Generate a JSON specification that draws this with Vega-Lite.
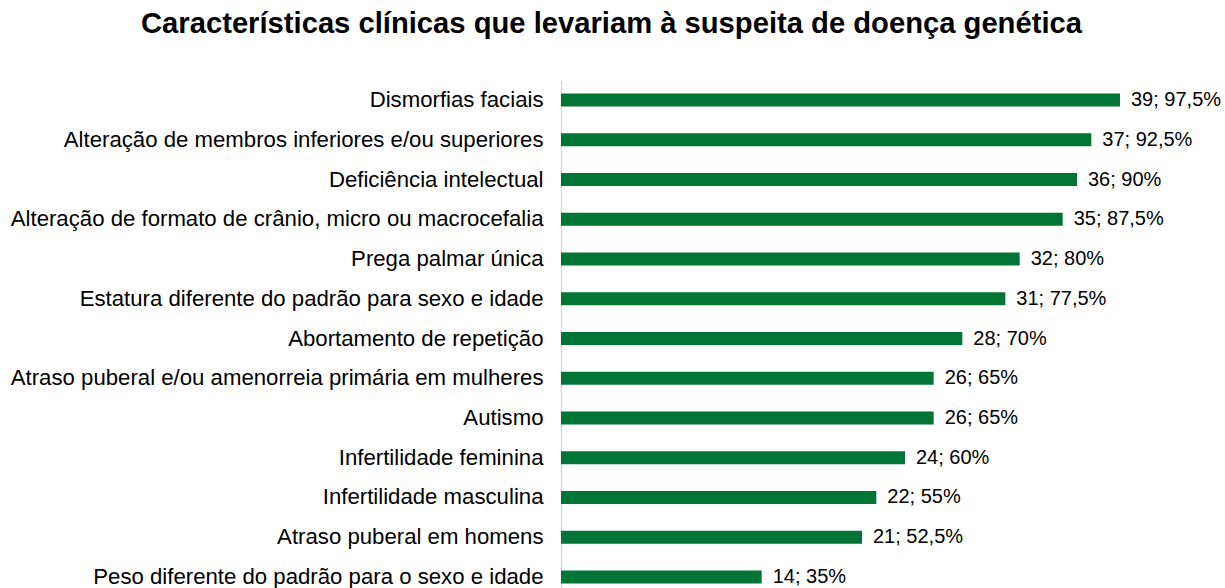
{
  "$schema": "https://vega.github.io/schema/vega-lite/v6.json",
  "autosize": "none",
  "width": 645,
  "height": 517,
  "padding": {"left": 561, "top": 80, "right": 19, "bottom": 0},
  "background": "white",
  "title": {
    "text": "Características clínicas que levariam à suspeita de doença genética",
    "font": "Liberation Sans",
    "fontSize": 29.2,
    "fontWeight": "bold",
    "color": "black",
    "anchor": "middle",
    "frame": "group",
    "dx": -272,
    "baseline": "alphabetic",
    "offset": 18
  },
  "data": {
    "values": [
      {"caracteristica": "Dismorfias faciais", "n": 39, "rotulo": "39; 97,5%"},
      {"caracteristica": "Alteração de membros inferiores e/ou superiores", "n": 37, "rotulo": "37; 92,5%"},
      {"caracteristica": "Deficiência intelectual", "n": 36, "rotulo": "36; 90%"},
      {"caracteristica": "Alteração de formato de crânio, micro ou macrocefalia", "n": 35, "rotulo": "35; 87,5%"},
      {"caracteristica": "Prega palmar única", "n": 32, "rotulo": "32; 80%"},
      {"caracteristica": "Estatura diferente do padrão para sexo e idade", "n": 31, "rotulo": "31; 77,5%"},
      {"caracteristica": "Abortamento de repetição", "n": 28, "rotulo": "28; 70%"},
      {"caracteristica": "Atraso puberal e/ou amenorreia primária em mulheres", "n": 26, "rotulo": "26; 65%"},
      {"caracteristica": "Autismo", "n": 26, "rotulo": "26; 65%"},
      {"caracteristica": "Infertilidade feminina", "n": 24, "rotulo": "24; 60%"},
      {"caracteristica": "Infertilidade masculina", "n": 22, "rotulo": "22; 55%"},
      {"caracteristica": "Atraso puberal em homens", "n": 21, "rotulo": "21; 52,5%"},
      {"caracteristica": "Peso diferente do padrão para o sexo e idade", "n": 14, "rotulo": "14; 35%"}
    ]
  },
  "encoding": {
    "y": {
      "field": "caracteristica",
      "type": "nominal",
      "sort": null,
      "scale": {"paddingInner": 0.67, "paddingOuter": 0.34},
      "axis": {
        "title": null,
        "ticks": false,
        "labelPadding": 18,
        "labelFont": "Liberation Sans",
        "labelFontSize": 22.2,
        "labelColor": "black",
        "labelLimit": 700,
        "domainColor": "#d9d9d9",
        "domainWidth": 1.5
      }
    },
    "x": {
      "field": "n",
      "type": "quantitative",
      "scale": {"domain": [0, 45], "nice": false},
      "axis": null
    }
  },
  "layer": [
    {"mark": {"type": "bar", "color": "#007535"}},
    {
      "mark": {"type": "text", "align": "left", "dx": 11, "font": "Liberation Sans", "fontSize": 20, "color": "black", "baseline": "middle"},
      "encoding": {"text": {"field": "rotulo"}}
    }
  ],
  "config": {"view": {"stroke": null}}
}
